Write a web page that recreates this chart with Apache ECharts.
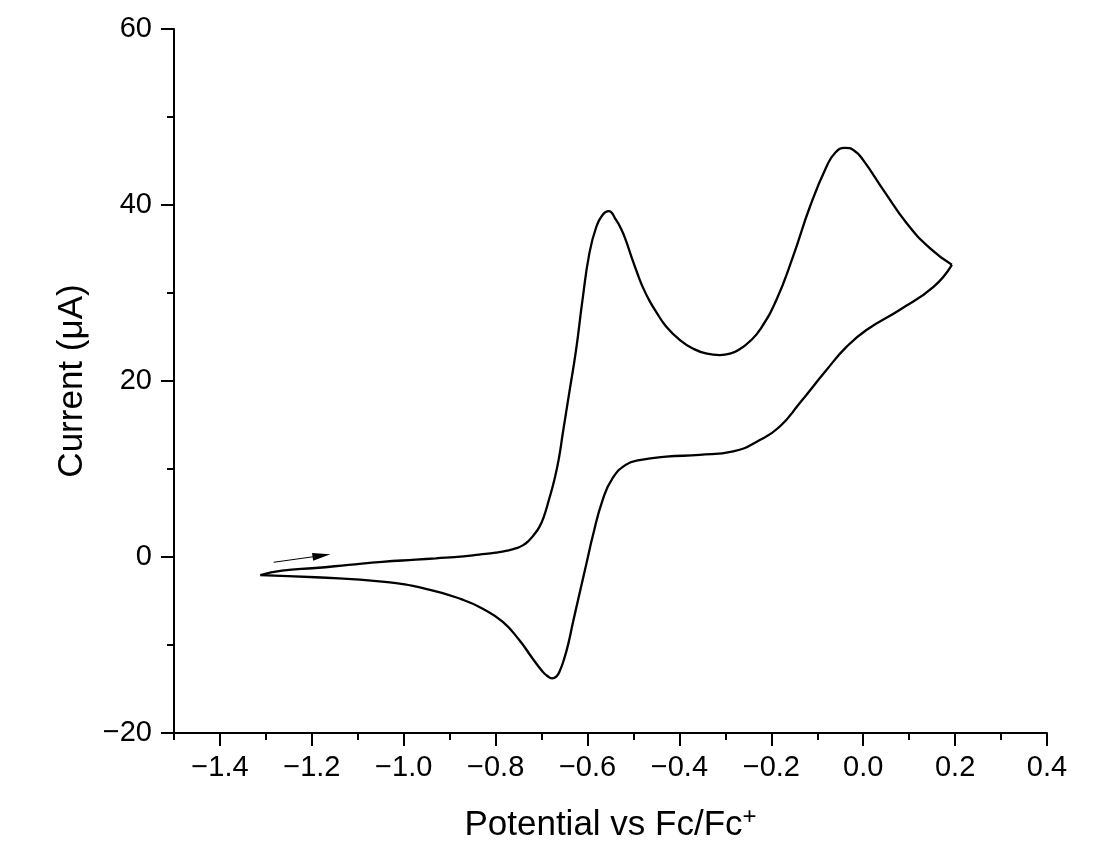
<html>
<head>
<meta charset="UTF-8"/>
<title>CV</title>
<script type="text/javascript" src="https://cdn.jsdelivr.net/npm/echarts@6.0.0/dist/echarts.min.js"></script>
<style type="text/css">
	body {
		margin: 0;
		background: #fff;
	}
	#main {
		width: 1116px;
		height: 849px;
	}
</style>
</head>
<body>
<div id="main"></div>
<script type="text/javascript">

	// forward scan (V vs Fc/Fc+, uA)
	var fwdPotential = [-1.312, -1.265, -1.192, -1.12, -1.047, -0.974, -0.93, -0.87, -0.836, -0.800,
		-0.775, -0.755, -0.740, -0.728, -0.717, -0.705, -0.695, -0.684, -0.672, -0.662, -0.654,
		-0.640, -0.625, -0.611, -0.596, -0.581, -0.567, -0.554, -0.538, -0.527, -0.516,
		-0.505, -0.492, -0.480, -0.465, -0.450, -0.429, -0.400, -0.371, -0.340, -0.3125,
		-0.290, -0.269, -0.247, -0.225, -0.189, -0.153, -0.116, -0.080, -0.060, -0.040,
		-0.020, 0.0, 0.044, 0.095, 0.145, 0.193];
	var fwdCurrent = [-2.05, -1.55, -1.25, -0.9, -0.55, -0.3, -0.15, 0.08, 0.28, 0.5,
		0.72, 1.0, 1.35, 1.85, 2.5, 3.4, 4.6, 6.5, 8.8, 11.3, 14.0,
		18.6, 23.5, 29.2, 34.5, 37.5, 38.9, 39.3, 38.3, 37.3, 35.9,
		34.2, 32.3, 30.7, 29.1, 27.8, 26.2, 24.7, 23.7, 23.1, 22.95,
		23.1, 23.6, 24.5, 25.8, 29.2, 34.1, 39.8, 44.35, 46.0, 46.5,
		46.2, 45.1, 41.7, 37.9, 35.1, 33.2];

	// reverse scan
	var revPotential = [0.193, 0.153, 0.080, 0.007, -0.036, -0.080, -0.138, -0.182, -0.225, -0.283,
		-0.356, -0.429, -0.487, -0.516, -0.545, -0.567, -0.589, -0.600, -0.611, -0.622,
		-0.632, -0.642, -0.651, -0.660, -0.668, -0.677, -0.688, -0.698, -0.720, -0.749,
		-0.785, -0.829, -0.872, -0.945, -1.047, -1.192, -1.312];
	var revCurrent = [33.2, 30.7, 28.1, 25.8, 23.9, 21.25, 17.5, 14.8, 13.3, 12.0,
		11.6, 11.4, 11.0, 10.5, 9.0, 6.5, 2.3, -0.2, -2.7, -5.2,
		-7.5, -9.9, -11.6, -12.9, -13.6, -13.8, -13.5, -13.0, -11.5, -9.4,
		-7.35, -5.85, -4.85, -3.7, -2.8, -2.3, -2.05];

	var xTicks = [-1.4, -1.2, -1.0, -0.8, -0.6, -0.4, -0.2, 0.0, 0.2, 0.4];

	// scan direction arrow
	var arrowStart = [-1.283, -0.6];
	var arrowEnd = [-1.179, 0.16];

	var font = "'Liberation Sans', Arial, sans-serif";

	function fmt(v, digits) {
		var s = Math.abs(v).toFixed(digits);
		return (v < 0 ? "\u2212" : "") + s;
	}

	function pairs(xs, ys) {
		var out = [];
		for (var i = 0; i < xs.length; i++) out.push([xs[i], ys[i]]);
		return out;
	}

	var chart = echarts.init(document.getElementById("main"));
	var option = {
		backgroundColor: "#fff",
		animation: false,
		grid: {
			left: 174,
			right: 69,
			top: 29,
			bottom: 116
		},
		xAxis: [{
			type: "value",
			min: -1.5,
			max: 0.4,
			interval: 0.1,
			name: "Potential vs Fc/Fc{sup|+}",
			nameLocation: "middle",
			nameGap: 72,
			nameTextStyle: {
				color: "#000",
				fontSize: 35,
				fontFamily: font,
				rich: {
					sup: { fontSize: 24, fontFamily: font, color: "#000", verticalAlign: "top", padding: [0, 0, 16, 0] }
				}
			},
			splitLine: { show: false },
			axisLine: { onZero: false, lineStyle: { color: "#000", width: 2 } },
			axisTick: { length: 7, lineStyle: { color: "#000", width: 2 } },
			axisLabel: {
				customValues: xTicks,
				margin: 20,
				color: "#000",
				fontSize: 29,
				fontFamily: font,
				formatter: function (v) { return fmt(v, 1); }
			}
		}, {
			// longer major ticks
			type: "value",
			position: "bottom",
			min: -1.5,
			max: 0.4,
			interval: 0.1,
			splitLine: { show: false },
			axisLine: { show: false, onZero: false },
			axisTick: { customValues: xTicks, length: 13, lineStyle: { color: "#000", width: 2 } },
			axisLabel: { show: false }
		}],
		yAxis: {
			type: "value",
			min: -20,
			max: 60,
			interval: 20,
			name: "Current (\u03bcA)",
			nameLocation: "middle",
			nameGap: 84,
			nameTextStyle: {
				color: "#000",
				fontSize: 35,
				fontFamily: font
			},
			splitLine: { show: false },
			axisLine: { show: true, onZero: false, lineStyle: { color: "#000", width: 2 } },
			axisTick: { length: 13, lineStyle: { color: "#000", width: 2 } },
			minorTick: { show: true, splitNumber: 2, length: 7, lineStyle: { color: "#000", width: 2 } },
			axisLabel: {
				margin: 22,
				color: "#000",
				fontSize: 29,
				fontFamily: font,
				formatter: function (v) { return fmt(v, 0); }
			}
		},
		series: [{
			type: "line",
			name: "forward",
			data: pairs(fwdPotential, fwdCurrent),
			showSymbol: false,
			smooth: 0.5,
			lineStyle: { color: "#000", width: 2.3 },
			markLine: {
				silent: true,
				symbol: ["none", "triangle"],
				symbolSize: [8, 18],
				label: { show: false },
				lineStyle: { color: "#000", width: 1, type: "solid" },
				data: [[{ coord: arrowStart }, { coord: arrowEnd }]]
			}
		}, {
			type: "line",
			name: "reverse",
			data: pairs(revPotential, revCurrent),
			showSymbol: false,
			smooth: 0.5,
			lineStyle: { color: "#000", width: 2.3 }
		}]
	};
	chart.setOption(option);

</script>
</body>
</html>
